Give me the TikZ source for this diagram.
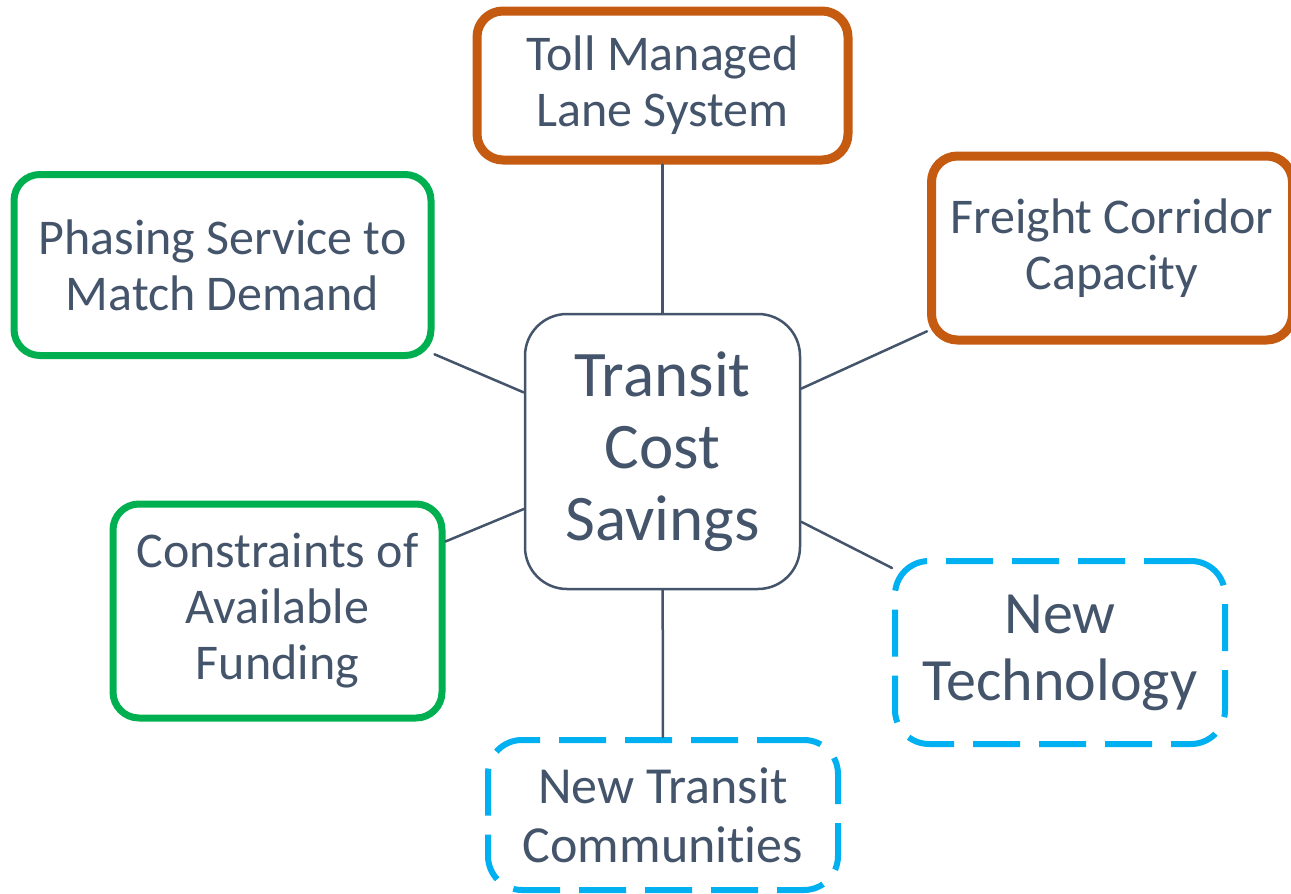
\documentclass[tikz,border=0pt]{standalone}
\usepackage{fontspec}
\setmainfont{Carlito}[RawFeature={-liga;-clig;-dlig}]
\definecolor{txtgris}{HTML}{44546A}
\definecolor{orangeb}{HTML}{C55A11}
\definecolor{vertb}{HTML}{00B050}
\definecolor{bleub}{HTML}{00B0F0}
\begin{document}
\begin{tikzpicture}[line cap=round,line join=round,x=1pt,y=-1pt,
	boite/.style={rectangle, rounded corners=26, fill=white, inner sep=0pt, align=center, text=txtgris, font=\fontsize{50}{56}\selectfont},
	orangebox/.style={boite, draw=orangeb, line width=9},
	greenbox/.style={boite, draw=vertb, line width=7},
	bluebox/.style={boite, draw=bleub, line width=6, line cap=butt, dash pattern=on 47 off 19, rounded corners=34},
	lien/.style={draw=txtgris, line width=2.5}]
			\useasboundingbox (0,0) rectangle (1291,894);
			%noeud central
			\node[boite, draw=txtgris, line width=2.5, rounded corners=42, minimum width=275, minimum height=275, font=\fontsize{65}{72}\selectfont] (centre) at (662.5,451.5) {Transit\\Cost\\Savings};
			%boites autour
			\node[orangebox, minimum width=371, minimum height=149] (toll) at (662.5,85.5) {Toll Managed\\Lane System};
			\node[orangebox, minimum width=361, minimum height=184] (fret) at (1112,248) {Freight Corridor\\Capacity};
			\node[greenbox, minimum width=417, minimum height=181] (phasage) at (222.5,265) {Phasing Service to\\Match Demand};
			\node[greenbox, minimum width=329, minimum height=214] (contraintes) at (277.5,611) {Constraints of\\Available\\Funding};
			\node[bluebox, minimum width=330, minimum height=183, font=\fontsize{60}{67}\selectfont] (techno) at (1060,652.5) {New\\Technology};
			\node[bluebox, minimum width=350, minimum height=150, font=\fontsize{52}{59}\selectfont] (communautes) at (663,815) {New Transit\\Communities};
			%liens
			\draw[lien] (centre) -- (toll);
			\draw[lien] (centre) -- (fret);
			\draw[lien] (centre) -- (phasage);
			\draw[lien] (centre) -- (contraintes);
			\draw[lien] (centre) -- (techno);
			\draw[lien] (centre) -- (communautes);
\end{tikzpicture}
\end{document}
